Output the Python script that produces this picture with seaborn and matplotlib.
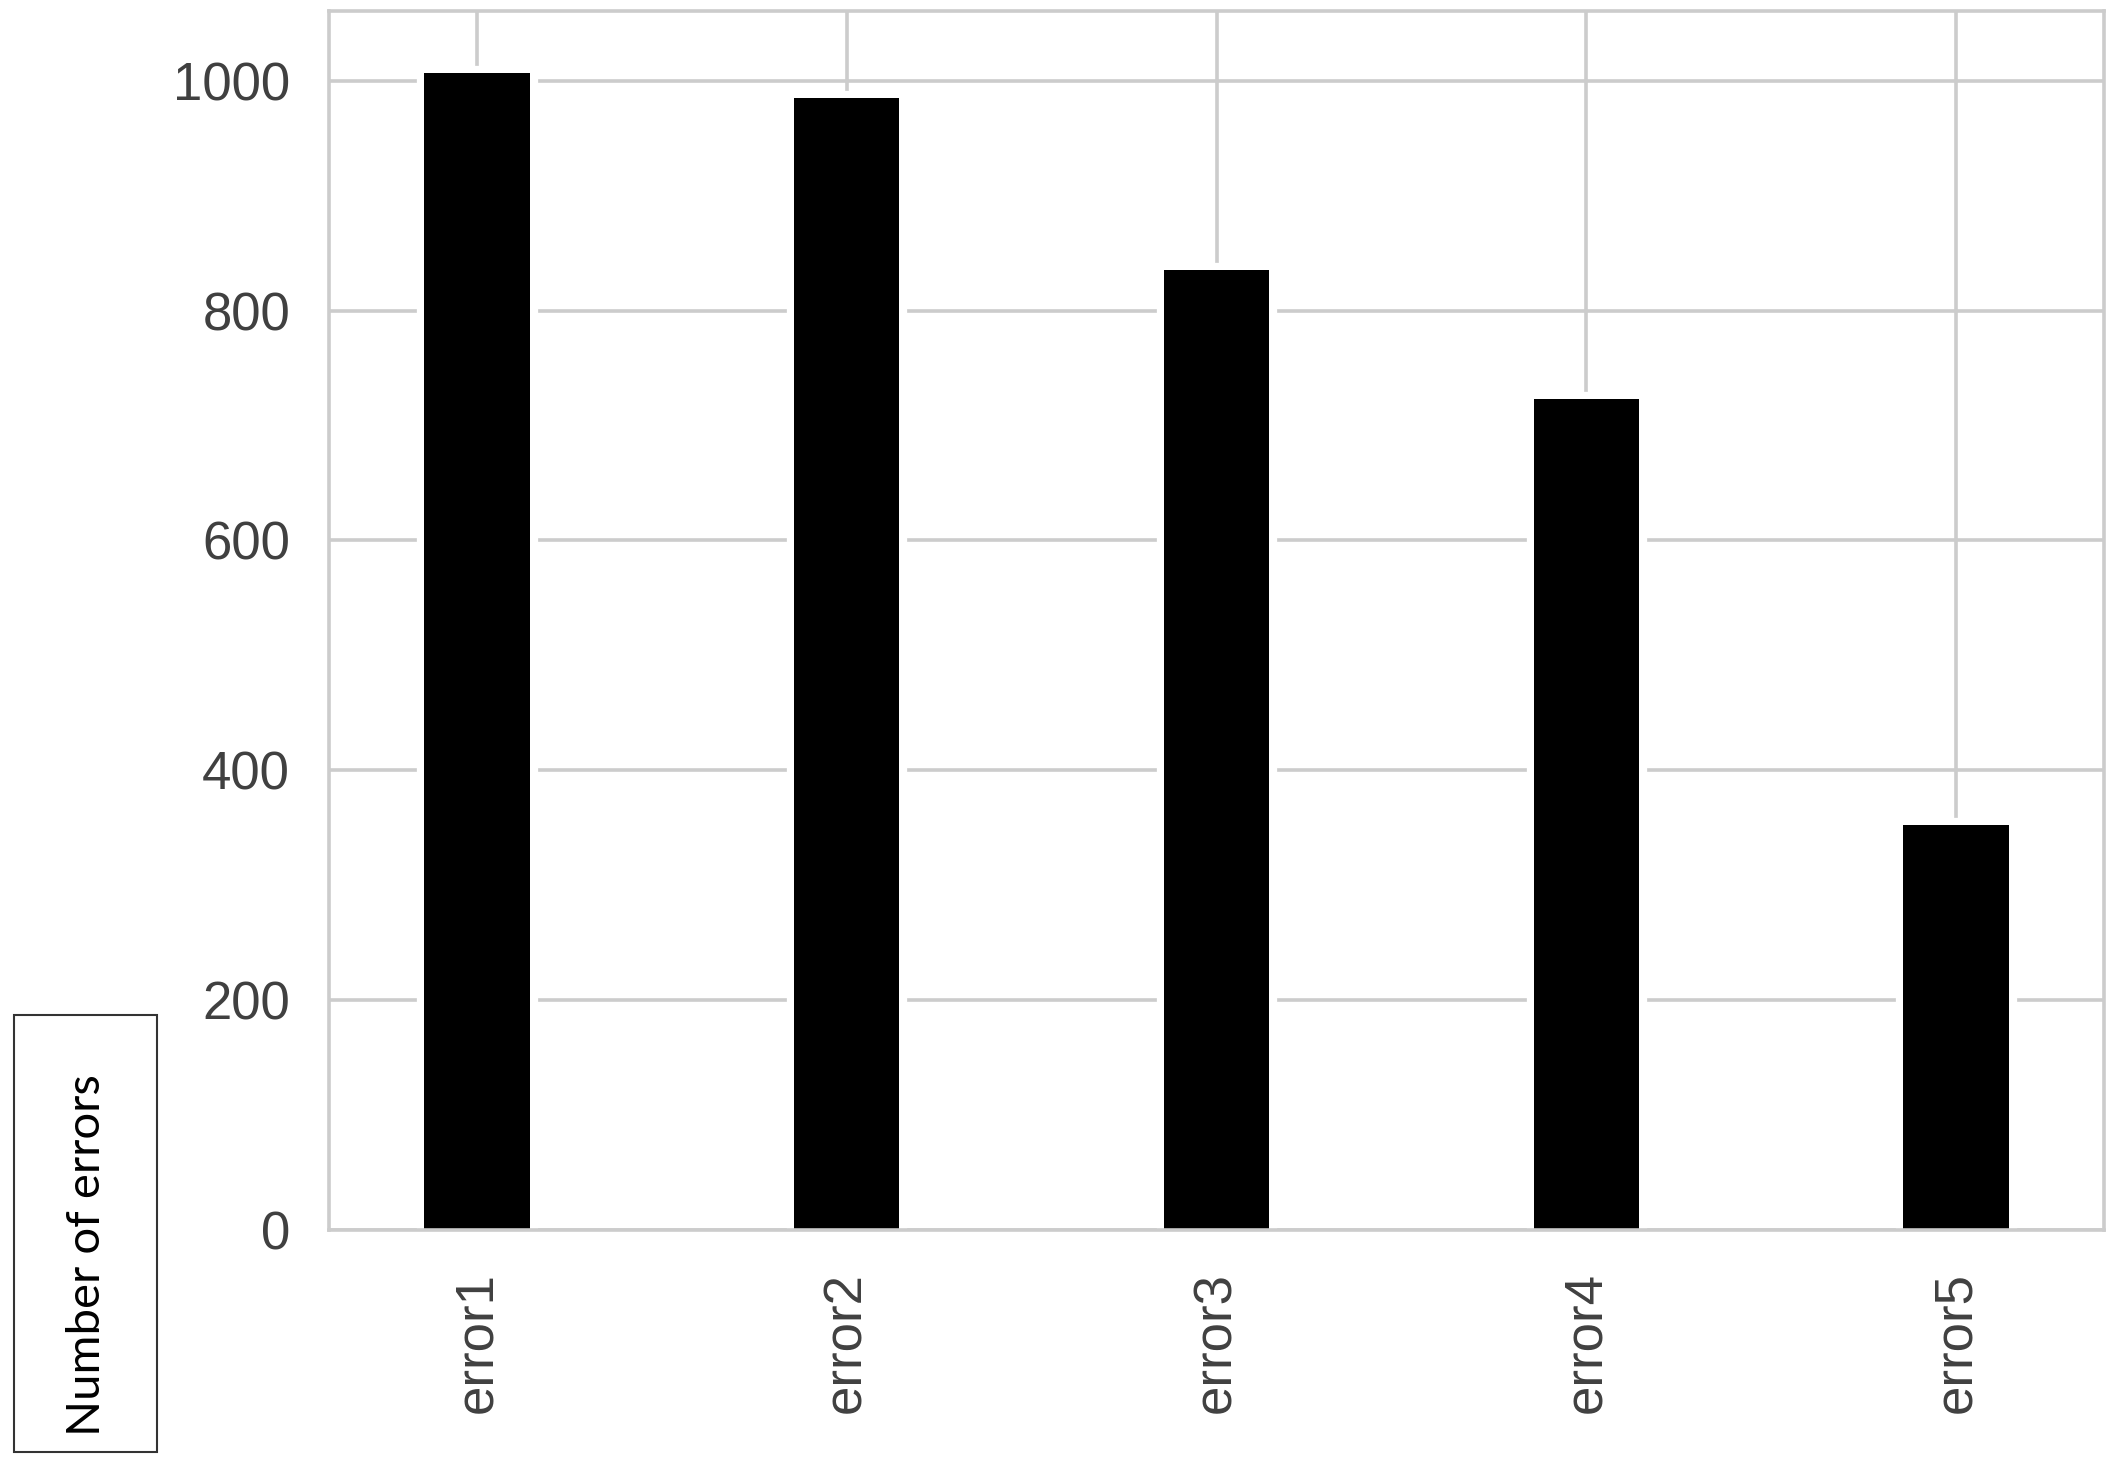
import matplotlib
matplotlib.use("Agg")
import matplotlib.pyplot as plt
import seaborn as sns
import pandas as pd
from matplotlib.patches import Rectangle

categories = ["error1", "error2", "error3", "error4", "error5"]
error_counts = [1007, 985, 835, 723, 352]
y_ticks = [0, 200, 400, 600, 800, 1000]
y_label = "Number of errors"

sns.set_style("whitegrid", rc={"grid.color": "#cccccc", "axes.edgecolor": "#cccccc"})
plt.rcParams["font.family"] = ["Liberation Sans", "DejaVu Sans"]
plt.rcParams["grid.linewidth"] = 2.6
plt.rcParams["axes.linewidth"] = 2.6

W, H = 2127, 1467
fig = plt.figure(figsize=(W / 100, H / 100), dpi=100)
ax = fig.add_axes([329 / W, 1 - 1230 / H, 1775 / W, 1219 / H])

df = pd.DataFrame({"category": categories, "count": error_counts})
# white halo beneath bars interrupts the grid lines around each bar
sns.barplot(data=df, x="category", y="count", color="white", width=0.285,
            edgecolor="white", linewidth=11, saturation=1, ax=ax, zorder=1.5)
sns.barplot(data=df, x="category", y="count", color="black", width=0.285,
            linewidth=0, saturation=1, ax=ax, zorder=2)

ax.set_xlim(-0.4, 4.4)
ax.set_ylim(0, 1060.6)
ax.set_yticks(y_ticks)
ax.set_xlabel("")
ax.set_ylabel("")
ax.set_axisbelow(True)
ax.grid(True, axis="both", color="#cccccc", linewidth=2.6, zorder=0.5)
ax.tick_params(axis="y", labelsize=38, pad=28, length=0, labelcolor="#404040")
ax.tick_params(axis="x", labelsize=38, pad=30, length=0, labelcolor="#404040",
               labelrotation=90)
for s in ax.spines.values():
    s.set_visible(True)
    s.set_color("#cccccc")
    s.set_linewidth(2.6)

fig.patches.append(Rectangle((14 / W, 1 - 1452 / H), 143 / W, 437 / H,
                             transform=fig.transFigure, fill=False,
                             edgecolor="#333333", linewidth=1.5))
fig.text(100 / W, 1 - 1255 / H, y_label, rotation=90, rotation_mode="anchor",
         ha="center", va="baseline", fontsize=34, color="black",
         family=["Lato", "DejaVu Sans"])

fig.savefig("out.png", dpi=100)
